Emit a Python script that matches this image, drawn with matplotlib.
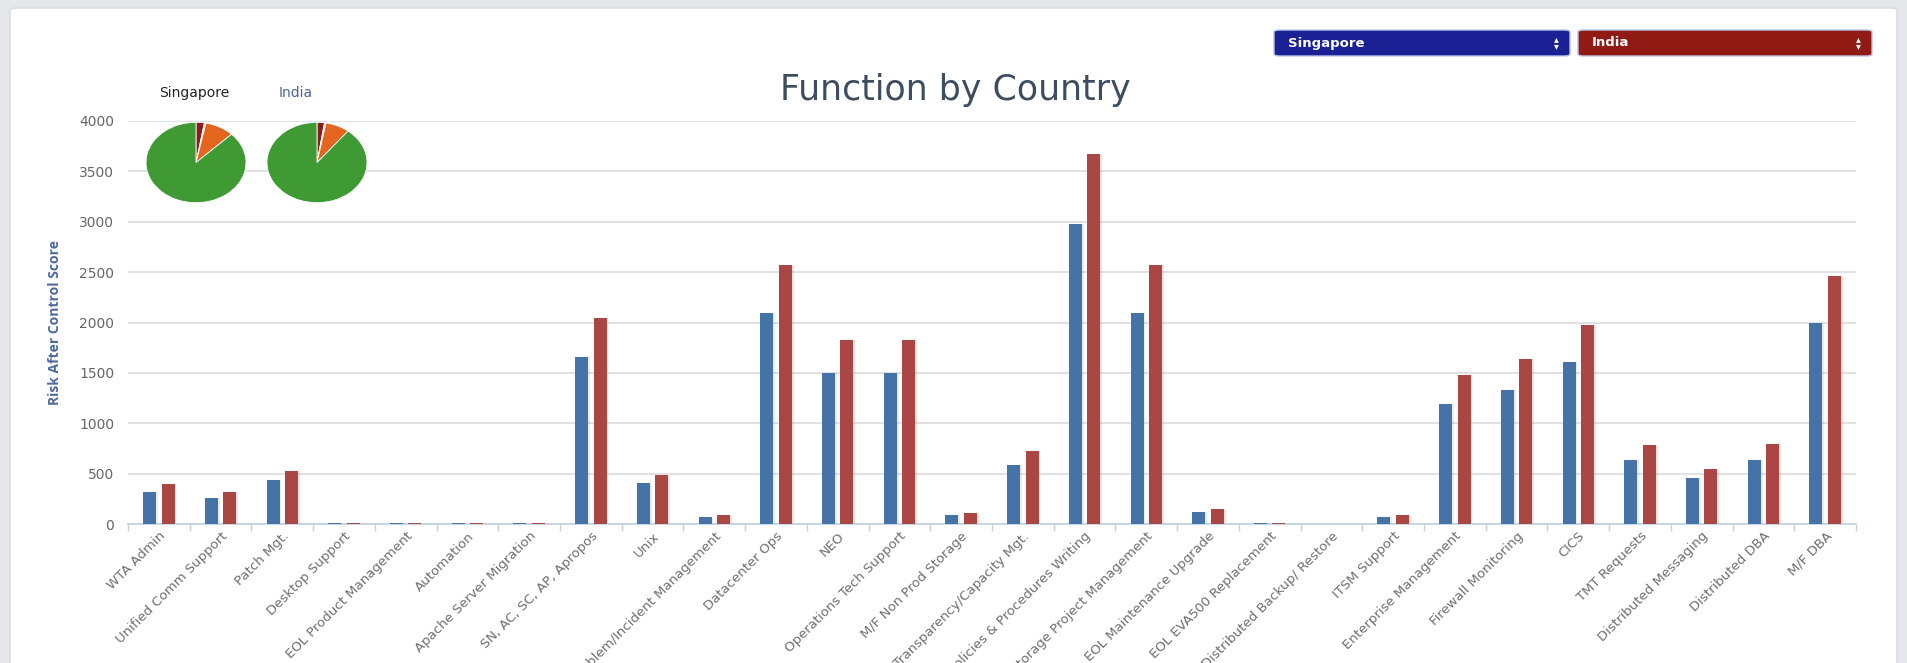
import numpy as np
import matplotlib
matplotlib.use("Agg")
from matplotlib import pyplot as plt
from matplotlib.patches import FancyBboxPatch

plt.rcParams['font.family'] = ['DejaVu Sans']

functions = [
    'WTA Admin', 'Unified Comm Support', 'Patch Mgt.', 'Desktop Support',
    'EOL Product Management', 'Automation', 'Apache Server Migration',
    'SN, AC, SC, AP, Apropos', 'Unix', 'Problem/Incident Management',
    'Datacenter Ops', 'NEO', 'Operations Tech Support', 'M/F Non Prod Storage',
    'Cost Transparency/Capacity Mgt.', 'Storage Policies & Procedures Writing',
    'Storage Project Management', 'EOL Maintenance Upgrade',
    'EOL EVA500 Replacement', 'Distributed Backup/ Restore', 'ITSM Support',
    'Enterprise Management', 'Firewall Monitoring', 'CICS', 'TMT Requests',
    'Distributed Messaging', 'Distributed DBA', 'M/F DBA',
]
singapore = [320, 260, 440, 8, 8, 8, 8, 1660, 410, 70, 2090, 1500, 1500, 90,
             590, 2980, 2090, 120, 8, 0, 70, 1190, 1330, 1610, 640, 460, 640, 2000]
india = [400, 320, 530, 10, 10, 10, 10, 2040, 490, 90, 2570, 1830, 1830, 110,
         720, 3670, 2570, 150, 10, 0, 90, 1480, 1640, 1980, 780, 550, 790, 2460]

pie_labels = ['High', 'Medium-High', 'Medium', 'Low']
pie_singapore = [2.7, 0.5, 9.4, 87.4]
pie_india = [2.4, 0.5, 7.8, 89.3]
pie_colors = ['#8b1c1c', '#f3c9c0', '#e2661d', '#3f9a34']

W, H = 1907, 663
fig = plt.figure(figsize=(W / 100, H / 100), dpi=100)
fig.patch.set_facecolor('#e5e7eb')

def fx(px):
    return px / W

def fy(py):
    return 1 - py / H

# white panel
panel = FancyBboxPatch((fx(10), fy(700)), fx(1887), 692 / H,
                       boxstyle='round,pad=0,rounding_size=0.004',
                       transform=fig.transFigure, facecolor='white',
                       edgecolor='#d5d8de', lw=1, zorder=0)
fig.add_artist(panel)

left, right, top, bottom = 128, 1856, 121, 524
ax = fig.add_axes([fx(left), fy(bottom), fx(right - left), (bottom - top) / H])
ax.set_facecolor('none')

x = np.arange(len(functions))
w = 0.21
off = 0.15
blue, red = '#4572a7', '#aa4643'
# soft shadows
ax.bar(x - off + 0.03, singapore, w, color=blue, alpha=0.12, zorder=2)
ax.bar(x + off + 0.03, india, w, color=red, alpha=0.15, zorder=2)
ax.bar(x - off, singapore, w, color=blue, zorder=3)
ax.bar(x + off, india, w, color=red, zorder=3)

ax.set_xlim(-0.5, len(functions) - 0.5)
ax.set_ylim(0, 4000)
ax.set_yticks(range(0, 4001, 500))
ax.yaxis.grid(True, color='#dcdcdc', lw=1.2)
ax.set_axisbelow(True)
for s in ['top', 'right', 'left']:
    ax.spines[s].set_visible(False)
ax.spines['bottom'].set_color('#c0d0e0')
ax.spines['bottom'].set_linewidth(1.2)
ax.tick_params(axis='y', length=0, pad=10, labelsize=10, labelcolor='#666666')
ax.set_xticks(x)
ax.set_xticklabels(functions, rotation=45, ha='right', rotation_mode='anchor',
                   fontsize=9.5, color='#6e6e6e')
ax.tick_params(axis='x', which='major', length=0, pad=4)
ax.set_xticks(np.arange(len(functions) + 1) - 0.5, minor=True)
ax.tick_params(axis='x', which='minor', length=5, color='#c0d0e0', width=1)

ax.set_ylabel('Risk After Control Score', color='#4d6a9c', fontsize=10,
              fontweight='bold', family='Open Sans')
ax.yaxis.set_label_coords((62 - left) / (right - left), 0.5)

fig.text(fx(955), fy(90), 'Function by Country', ha='center', va='center',
         fontsize=25, color='#3e4c60')

# pies
for cx, vals in [(196, pie_singapore), (317, pie_india)]:
    pax = fig.add_axes([fx(cx - 51), fy(162.5 + 41), fx(102), 82 / H])
    pax.pie(vals, colors=pie_colors, startangle=90, counterclock=False,
            wedgeprops=dict(edgecolor='white', linewidth=0.6))
    pax.set_aspect('auto')
    pax.set_xlim(-1.02, 1.02)
    pax.set_ylim(-1.02, 1.02)
fig.text(fx(194), fy(93), 'Singapore', ha='center', va='center',
         fontsize=10, color='#222222')
fig.text(fx(296), fy(93), 'India', ha='center', va='center',
         fontsize=10, color='#4a6494')

# country selectors
for x0, x1, name, col in [(1274, 1570, 'Singapore', '#1b2095'),
                          (1578, 1872, 'India', '#901b14')]:
    box = FancyBboxPatch((fx(x0), fy(56)), fx(x1 - x0), 26 / H,
                         boxstyle='round,pad=0,rounding_size=0.003',
                         transform=fig.transFigure, facecolor=col,
                         edgecolor='#b9c4e6', lw=1, zorder=2)
    fig.add_artist(box)
    fig.text(fx(x0 + 14), fy(43), name, ha='left', va='center',
             fontsize=9.5, fontweight='bold', color='white', zorder=3)
    fig.text(fx(x1 - 14), fy(39.5), '\u25b4', ha='center', va='center',
             fontsize=7, color='white', zorder=3)
    fig.text(fx(x1 - 14), fy(46.5), '\u25be', ha='center', va='center',
             fontsize=7, color='white', zorder=3)

plt.savefig('out.png', dpi=100, facecolor=fig.get_facecolor())
